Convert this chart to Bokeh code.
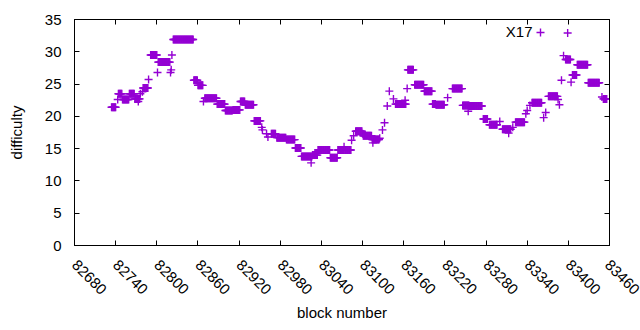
import numpy as np
from math import pi
from bokeh.plotting import figure
from bokeh.models import FixedTicker, LinearAxis, Range1d, Label, Legend, LegendItem
from bokeh.embed import file_html
from bokeh.resources import INLINE

# Runs of blocks sharing one difficulty value (first block, last block, difficulty)
run_first = [82734, 82743, 82744, 82750, 82760, 82768, 82773, 82776, 82779, 82780,
             82788, 82791, 82801, 82802, 82821, 82820, 82822, 82824, 82854, 82860,
             82868, 82870, 82888, 82900, 82911, 82922, 82929, 82942, 82953, 82954,
             82960, 82962, 82967, 82975, 82989, 83002, 83011, 83025, 83027, 83035,
             83053, 83064, 83073, 83074, 83084, 83087, 83090, 83100, 83101, 83114,
             83115, 83125, 83129, 83132, 83136, 83139, 83145, 83148, 83162, 83165,
             83166, 83176, 83190, 83202, 83207, 83224, 83231, 83246, 83254, 83256,
             83276, 83285, 83300, 83304, 83313, 83319, 83323, 83338, 83340, 83344,
             83347, 83364, 83367, 83371, 83385, 83387, 83390, 83393, 83396, 83399,
             83404, 83406, 83413, 83429, 83449, 83451]
run_last = [82740, 82743, 82749, 82759, 82767, 82775, 82773, 82776, 82779, 82787,
            82788, 82800, 82801, 82819, 82821, 82820, 82822, 82853, 82859, 82867,
            82868, 82887, 82899, 82910, 82921, 82928, 82941, 82951, 82953, 82954,
            82960, 82962, 82973, 82988, 83001, 83010, 83026, 83025, 83034, 83052,
            83063, 83072, 83073, 83083, 83084, 83087, 83099, 83100, 83113, 83124,
            83115, 83125, 83129, 83132, 83136, 83139, 83145, 83163, 83162, 83165,
            83174, 83189, 83201, 83206, 83219, 83224, 83245, 83255, 83254, 83274,
            83282, 83296, 83300, 83316, 83313, 83319, 83336, 83338, 83340, 83344,
            83361, 83364, 83367, 83384, 83385, 83387, 83390, 83393, 83403, 83399,
            83404, 83412, 83428, 83445, 83449, 83456]
run_difficulty = [21.4, 22.6, 23.5, 22.6, 23.5, 22.7, 22.3, 23.5, 23.8, 24.4,
                  25.7, 29.5, 26.8, 28.4, 27.2, 26.8, 29.5, 31.9, 25.6, 24.8,
                  22.3, 22.8, 21.9, 20.9, 21.0, 22.3, 21.8, 19.3, 18.3, 17.9,
                  17.3, 16.8, 17.3, 16.7, 16.4, 15.1, 13.8, 12.8, 14.0, 14.8,
                  13.6, 14.8, 15.3, 14.8, 16.3, 17.0, 17.7, 17.3, 17.0, 16.4,
                  15.9, 16.6, 17.9, 19.0, 21.6, 23.9, 22.7, 21.9, 22.5, 24.3,
                  27.2, 24.9, 23.9, 21.9, 21.8, 22.9, 24.3, 21.7, 20.8, 21.6,
                  19.6, 18.7, 19.2, 18.0, 17.4, 18.3, 19.1, 20.4, 20.9, 21.7,
                  22.1, 19.8, 20.6, 23.1, 22.6, 21.8, 25.6, 29.4, 28.8, 32.9,
                  25.3, 26.4, 28.0, 25.2, 23.0, 22.7]

x_ticks = [82680, 82740, 82800, 82860, 82920, 82980, 83040, 83100,
           83160, 83220, 83280, 83340, 83400, 83460]
y_ticks = [0, 5, 10, 15, 20, 25, 30, 35]
series_name = "X17"
x_title = "block number"
y_title = "difficulty"

blocks = []
diffs = []
for a, b, d in zip(run_first, run_last, run_difficulty):
    for blk in range(a, b + 1):
        blocks.append(blk)
        diffs.append(d)

COLOR = "#9400d3"
FONT = "Liberation Sans"
FS = "15px"

p = figure(output_backend="svg", toolbar_location=None,
           width=640, height=330,
           x_range=Range1d(x_ticks[0], x_ticks[-1]),
           y_range=Range1d(y_ticks[0], y_ticks[-1]),
           min_border_left=74, min_border_right=31,
           min_border_top=19, min_border_bottom=85)
p.background_fill_color = "white"
p.border_fill_color = "white"
p.outline_line_color = "black"
p.outline_line_alpha = 1
p.outline_line_width = 1
p.xgrid.visible = False
p.ygrid.visible = False

r = p.scatter(blocks, diffs, marker="cross", size=8, line_color=COLOR,
              line_width=1.4)

for ax in p.xaxis:
    ax.ticker = FixedTicker(ticks=x_ticks)
    ax.major_label_orientation = -pi / 4
    ax.axis_label = x_title
for ax in p.yaxis:
    ax.ticker = FixedTicker(ticks=y_ticks)
    ax.axis_label = y_title

for ax in list(p.xaxis) + list(p.yaxis):
    ax.major_tick_in = 5
    ax.major_tick_out = 0
    ax.minor_tick_line_color = None
    ax.axis_line_color = "black"
    ax.major_tick_line_color = "black"
    ax.major_label_text_font = FONT
    ax.major_label_text_font_size = FS
    ax.major_label_text_color = "black"
    ax.axis_label_text_font = FONT
    ax.axis_label_text_font_size = FS
    ax.axis_label_text_font_style = "normal"
    ax.axis_label_text_color = "black"

p.yaxis.major_label_standoff = 13
p.yaxis.axis_label_standoff = 17
p.xaxis.major_label_standoff = 17
p.xaxis.axis_label_standoff = 2

# mirrored ticks on top and right (no labels)
top = LinearAxis(ticker=FixedTicker(ticks=x_ticks), major_tick_in=5,
                 major_tick_out=0, minor_tick_line_color=None,
                 major_label_overrides={t: "" for t in x_ticks})
right = LinearAxis(ticker=FixedTicker(ticks=y_ticks), major_tick_in=5,
                   major_tick_out=0, minor_tick_line_color=None,
                   major_label_overrides={t: "" for t in y_ticks})
p.add_layout(top, "above")
p.add_layout(right, "right")

# key: label on the left, sample on the right (gnuplot style)
legend = Legend(items=[LegendItem(label=" ", renderers=[r])],
                location=(456, 203), padding=0, margin=0,
                glyph_width=20, glyph_height=20, label_width=0,
                label_standoff=0, background_fill_alpha=0,
                border_line_alpha=0, label_text_font_size="8px")
p.add_layout(legend)
p.add_layout(Label(x=458, y=214, x_units="screen", y_units="screen",
                   text=series_name, text_align="right",
                   text_baseline="middle", text_font=FONT,
                   text_font_size=FS, text_color="black"))

open("out.html", "w").write(file_html(p, INLINE))
